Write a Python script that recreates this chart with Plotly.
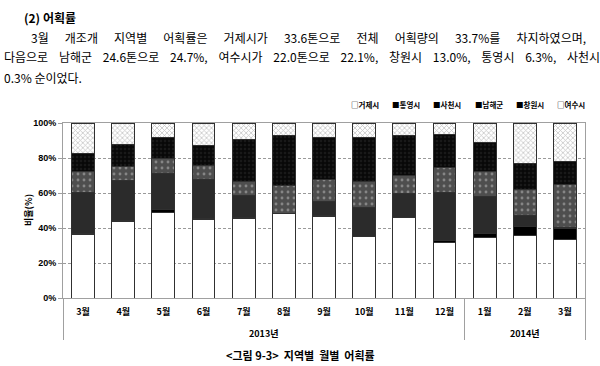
import plotly.graph_objects as go

# ---------------- data ----------------
years = ["2013년"] * 10 + ["2014년"] * 3
# (2014's "3월" carries an invisible zero-width space so the category stays distinct and in order)
months = ["3월", "4월", "5월", "6월", "7월", "8월", "9월", "10월", "11월", "12월", "1월", "2월", "3월\u200b"]

series_names = ["거제시", "통영시", "사천시", "남해군", "창원시", "여수시"]
geoje     = [36.5, 43.5, 48.6, 44.6, 45.5, 48.2, 46.7, 34.9, 45.9, 32.0, 34.3, 36.0, 33.7]
tongyeong = [0.5, 0.6, 1.7, 1.1, 0.4, 0.0, 0.2, 0.2, 0.2, 1.1, 2.3, 4.6, 6.3]
sacheon   = [23.4, 22.9, 21.1, 21.9, 12.6, 0.2, 8.0, 16.7, 13.5, 27.3, 21.3, 6.6, 0.3]
namhae    = [12.0, 7.9, 8.6, 8.0, 8.2, 16.0, 12.7, 14.9, 10.3, 13.9, 14.5, 14.7, 24.7]
changwon  = [9.9, 12.7, 11.8, 11.6, 23.6, 28.6, 24.2, 25.1, 23.0, 19.0, 16.4, 14.7, 13.0]
yeosu     = [17.7, 12.4, 8.2, 12.8, 9.7, 7.0, 8.2, 8.2, 7.1, 6.7, 11.2, 23.4, 22.1]
series_values = [geoje, tongyeong, sacheon, namhae, changwon, yeosu]
legend_marks = ["□", "■", "■", "■", "■", "□"]

heading = "(2) 어획률"
para_words = [
    ["3월", "개조개", "지역별", "어획률은", "거제시가", "33.6톤으로", "전체", "어획량의", "33.7%를", "차지하였으며,"],
    ["다음으로", "남해군", "24.6톤으로", "24.7%,", "여수시가", "22.0톤으로", "22.1%,", "창원시", "13.0%,", "통영시", "6.3%,", "사천시"],
    ["0.3%", "순이었다."],
]
caption = "<그림 9-3>  지역별  월별  어획률"
y_title = "비율(%)"

# ---------------- styles ----------------
styles = [
    dict(color="white"),
    dict(color="#000000"),
    dict(color="#2b2b2b"),
    dict(color="#555555", pattern=dict(shape=".", fgcolor="#bdbdbd", bgcolor="#4e4e4e", size=6, solidity=0.18)),
    dict(color="#0a0a0a", pattern=dict(shape=".", fgcolor="#2a2a2a", bgcolor="#080808", size=4, solidity=0.3)),
    dict(color="#dddddd", pattern=dict(shape="x", fgcolor="#8a8a8a", bgcolor="#ffffff", size=3.5, solidity=0.4)),
]

# outer (year) level drawn one line lower to leave room under the month labels
year_labels = ["<br>" + y for y in years]

fig = go.Figure()
for name, vals, st in zip(series_names, series_values, styles):
    marker = dict(color=st["color"], line=dict(color="#303030", width=1))
    if "pattern" in st:
        marker["pattern"] = st["pattern"]
    fig.add_trace(go.Bar(name=name, x=[year_labels, months], y=vals, marker=marker))

L, R, T, B = 63, 585, 123, 298
W, H = 600, 366


def px(x):
    return (x - L) / (R - L)


def py(y):
    return (B - y) / (B - T)


KFONT = "Noto Sans CJK KR"

fig.update_layout(
    width=W, height=H,
    margin=dict(l=L, r=W - R, t=T, b=H - B),
    plot_bgcolor="white", paper_bgcolor="white",
    barmode="stack", barnorm="percent", bargap=0.43,
    showlegend=False,
    font=dict(family=KFONT, size=9, color="black"),
    xaxis=dict(
        type="multicategory", showline=True, linecolor="#a0a0a0", linewidth=1, mirror=True,
        showdividers=True, dividercolor="#a0a0a0", dividerwidth=1,
        tickfont=dict(family=KFONT, size=9, weight="bold", color="black"),
        ticks="", ticklabelstandoff=5,
    ),
    yaxis=dict(
        range=[0, 100], dtick=20, ticksuffix="%",
        showgrid=True, gridcolor="#9a9a9a", griddash="3px,2px", gridwidth=1,
        showline=True, linecolor="#a0a0a0", linewidth=1, mirror=True,
        ticks="outside", ticklen=4, tickcolor="#a0a0a0",
        tickfont=dict(family="Liberation Sans", size=9, weight="bold", color="black"),
        zeroline=False,
    ),
)

ann = []
# heading
ann.append(dict(text=heading, x=px(22), y=py(17), xanchor="left", yanchor="middle",
                font=dict(family=KFONT, size=12, weight="bold")))
# paragraph (justified lines: words joined with the gap each line needs)
para_specs = [(29, 37, 6), (2, 57, 4), (2, 77, 1)]
for words, (lx, ly, gap) in zip(para_words, para_specs):
    line = ("\u00a0" * gap).join(words)
    ann.append(dict(text=line, x=px(lx), y=py(ly), xanchor="left", yanchor="middle",
                    font=dict(family=KFONT, size=12)))
# legend
for i, (mk, name) in enumerate(zip(legend_marks, series_names)):
    ann.append(dict(text=mk + name, x=px(349 + i * 41.2), y=py(104), xanchor="left", yanchor="middle",
                    font=dict(family=KFONT, size=7.5, weight="bold")))
# y title
ann.append(dict(text=y_title, x=px(28), y=py(210), textangle=-90, xanchor="center", yanchor="middle",
                font=dict(family=KFONT, size=9, weight="bold")))
# caption
ann.append(dict(text=caption, x=px(300), y=py(355), xanchor="center", yanchor="middle",
                font=dict(family=KFONT, size=11, weight="bold")))

for a in ann:
    a.update(xref="paper", yref="paper", showarrow=False)
fig.update_layout(annotations=ann)

fig.write_html(
    "out.html",
    config={"displayModeBar": False},
    post_script="document.body.style.margin='0';document.body.style.padding='0';",
)
